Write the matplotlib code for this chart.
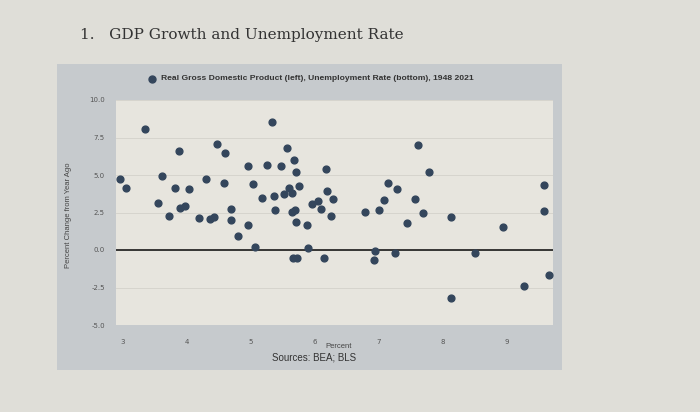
import matplotlib
matplotlib.use('Agg')
from matplotlib import pyplot as plt
from matplotlib.patches import Rectangle

# unemployment rate (percent) and real GDP growth (percent change)
unemployment = [2.97, 3.06, 3.35, 3.62, 3.55, 3.73, 3.82, 3.88, 3.90, 3.97,
                4.04, 4.19, 4.31, 4.36, 4.43, 4.47, 4.60, 4.59, 4.69, 4.70,
                4.81, 4.96, 4.96, 5.04, 5.07, 5.18, 5.26, 5.33, 5.36, 5.38,
                5.47, 5.52, 5.57, 5.60, 5.64, 5.64, 5.70, 5.68, 5.71, 5.71,
                5.75, 5.67, 5.73, 5.88, 5.89, 5.96, 6.06, 6.10, 6.14, 6.18,
                6.20, 6.28, 6.26, 7.61, 7.78, 7.15, 7.28, 7.09, 7.57, 7.00,
                6.79, 7.69, 7.44, 6.94, 6.92, 7.25, 8.13, 8.94, 9.58, 9.58,
                8.51, 9.66, 9.27, 8.13]
gdp_growth = [4.73, 4.11, 8.06, 4.93, 3.13, 2.29, 4.12, 6.58, 2.77, 2.91,
              4.06, 2.14, 4.76, 2.09, 2.23, 7.09, 6.45, 4.45, 2.76, 2.00,
              0.96, 5.58, 1.66, 4.39, 0.19, 3.44, 5.67, 8.55, 3.61, 2.66,
              5.58, 3.72, 6.81, 4.14, 3.81, 2.52, 2.65, 6.03, 5.17, 1.86,
              4.27, -0.56, -0.54, 1.68, 0.16, 3.10, 3.24, 2.75, -0.54, 5.41,
              3.95, 3.40, 2.24, 6.98, 5.19, 4.48, 4.05, 3.35, 3.41, 2.67,
              2.51, 2.48, 1.80, -0.08, -0.68, -0.23, 2.22, 1.51, 4.34, 2.58,
              -0.18, -1.69, -2.39, -3.23]

x_ticks = [3, 4, 5, 6, 7, 8, 9]
y_ticks = [-5.0, -2.5, 0.0, 2.5, 5.0, 7.5, 10.0]

dot_color = '#34465c'
page_color = '#dfded8'
box_color = '#c6cacd'
panel_color = '#e7e5de'

fig = plt.figure(figsize=(7, 4.12), dpi=100)
fig.patch.set_facecolor(page_color)

# grey frame of the graph
fig.patches.append(Rectangle((57 / 700, 1 - 370 / 412), (562 - 57) / 700, (370 - 64) / 412,
                             transform=fig.transFigure, facecolor=box_color,
                             edgecolor='none', zorder=-5))

fig.text(80 / 700, 1 - 35 / 412, '1.   GDP Growth and Unemployment Rate',
         family='DejaVu Serif', fontsize=11, color='#333333', va='center')

ax = fig.add_axes([116 / 700, 1 - 325 / 412, (553 - 116) / 700, (325 - 100) / 412])
ax.set_zorder(1)
ax.set_facecolor(panel_color)
ax.scatter(unemployment, gdp_growth, s=24, color=dot_color, zorder=3, clip_on=False)
ax.axhline(0, color='#1a1a1a', linewidth=1.2, zorder=2)

ax.set_xlim(2.9, 9.72)
ax.set_ylim(-5, 10)
ax.set_xticks(x_ticks)
ax.set_yticks(y_ticks)
ax.set_yticklabels(['%.1f' % v for v in y_ticks])
ax.tick_params(length=0, labelsize=5, labelcolor='#555555')
ax.tick_params(axis='y', pad=8)
ax.tick_params(axis='x', pad=10)
ax.grid(axis='y', color='#d3d1ca', linewidth=0.6)
ax.set_axisbelow(True)
for side in ax.spines.values():
    side.set_visible(False)

fig.text(68 / 700, 1 - 215 / 412, 'Percent Change from Year Ago', fontsize=5.5,
         color='#444444', rotation=90, ha='center', va='center', family='Liberation Sans')

fig.text(339 / 700, 1 - 347 / 412, 'Percent', fontsize=5.5, color='#444444',
         ha='center', va='center', family='Liberation Sans')
fig.text(314 / 700, 1 - 358 / 412, 'Sources: BEA; BLS', fontsize=7, color='#333333',
         ha='center', va='center', family='Liberation Sans')

# legend line above the panel
fig.lines.append(plt.Line2D([152 / 700], [1 - 79 / 412], marker='o', markersize=5,
                            color=dot_color, transform=fig.transFigure))
fig.text(161 / 700, 1 - 79 / 412,
         'Real Gross Domestic Product (left), Unemployment Rate (bottom), 1948 2021',
         fontsize=6.1, fontweight='bold', color='#333333', va='center', family='Liberation Sans')

plt.savefig('out.png', dpi=100, facecolor=fig.get_facecolor())
